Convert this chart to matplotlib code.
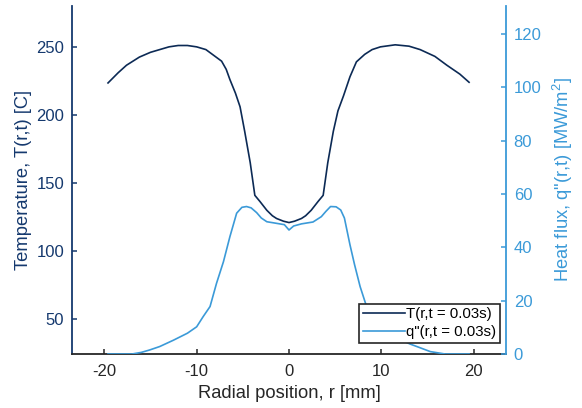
import matplotlib
matplotlib.use("Agg")
import matplotlib.pyplot as plt

plt.rcParams['font.family'] = ['Liberation Sans', 'DejaVu Sans']
plt.rcParams['mathtext.fontset'] = 'custom'
plt.rcParams['mathtext.rm'] = 'Liberation Sans'
plt.rcParams['mathtext.default'] = 'regular'
plt.rcParams['axes.unicode_minus'] = False

# temperature profile, T(r, t = 0.03 s)
r_T = [-19.6, -18.5, -17.6, -16.2, -15.0, -14.0, -13.0, -12.0, -11.0, -10.0, -9.0,
       -8.2, -7.3, -6.8, -6.4, -5.8, -5.3, -4.8, -4.2, -3.7, -3.15, -2.4, -1.8,
       -1.35, -0.6, 0.0, 0.6, 1.35, 1.8, 2.4, 3.15, 3.7, 4.2, 4.8, 5.3, 5.9, 6.6,
       7.3, 8.2, 9.0, 9.9, 11.5, 13.0, 14.2, 15.8, 17.1, 18.5, 19.5]
T = [223.5, 231.0, 236.5, 242.5, 246.0, 248.0, 250.0, 251.0, 251.0, 250.0, 248.0,
     244.0, 239.5, 233.5, 226.0, 216.0, 206.0, 188.0, 165.0, 141.0, 136.5, 130.0, 126.0,
     124.0, 122.0, 121.0, 122.0, 124.0, 126.0, 130.0, 136.5, 141.0, 165.0, 188.0, 203.0, 214.0, 228.0,
     239.0, 244.5, 248.0, 250.0, 251.5, 250.5, 248.0, 243.0, 236.5, 230.0, 224.0]

# heat flux profile, q''(r, t = 0.03 s)
r_q = [-19.6, -17.0, -16.0, -15.1, -14.0, -12.5, -11.0, -10.0, -9.3, -8.55, -7.85,
       -7.1, -6.4, -5.67, -5.1, -4.6, -4.1, -3.5, -3.0, -2.4, -1.35, -0.5, 0.0,
       0.5, 1.35, 2.6, 3.5, 4.0, 4.5, 5.1, 5.6, 6.0, 6.6, 7.1, 7.7, 8.4, 9.2,
       10.0, 11.0, 12.0, 13.1, 14.0, 15.3, 16.9, 19.5]
q = [0.0, 0.0, 0.6, 1.5, 2.8, 5.2, 7.8, 10.2, 14.0, 17.8, 26.5,
     34.6, 44.0, 52.8, 55.0, 55.3, 54.8, 53.0, 51.0, 49.6, 49.0, 48.5, 46.5,
     48.0, 48.8, 49.5, 51.5, 53.5, 55.3, 55.2, 54.0, 51.0, 41.0, 33.5, 25.3, 17.8, 13.0,
     10.0, 7.6, 5.5, 3.75, 2.6, 0.9, 0.0, 0.0]

x_ticks = [-20, -10, 0, 10, 20]
T_ticks = [50, 100, 150, 200, 250]
q_ticks = [0, 20, 40, 60, 80, 100, 120]

c_T = '#0c2a55'
c_T_axis = '#15396e'
c_q = '#3b9ad8'
c_ax = '#262626'

W, H = 582, 408
fig = plt.figure(figsize=(W / 100, H / 100), dpi=100)
left, right, top, bottom = 72, 506, 6, 354
aw, ah = right - left, bottom - top
ax1 = fig.add_axes([left / W, 1 - bottom / H, aw / W, ah / H])
ax2 = ax1.twinx()

l1, = ax1.plot(r_T, T, color=c_T, lw=1.2, label='T(r,t = 0.03s)')
l2, = ax2.plot(r_q, q, color=c_q, lw=1.2, label='q"(r,t = 0.03s)')

ax1.set_xlim(-23.5, 23.5)
ax1.set_ylim(24.5, 280)
ax2.set_ylim(0, 130.5)
ax1.set_xticks(x_ticks)
ax1.set_yticks(T_ticks)
ax2.set_yticks(q_ticks)

for s in ['top', 'right']:
    ax1.spines[s].set_visible(False)
for s in ['top', 'left', 'bottom']:
    ax2.spines[s].set_visible(False)
ax1.spines['left'].set_color(c_T_axis)
ax1.spines['bottom'].set_color(c_ax)
ax2.spines['right'].set_color(c_q)
for sp in [ax1.spines['left'], ax1.spines['bottom'], ax2.spines['right']]:
    sp.set_linewidth(1.3)

ax1.tick_params(axis='x', direction='in', length=3.5, width=1.1, colors=c_ax,
                labelsize=12, pad=7)
ax1.tick_params(axis='y', direction='in', length=3.5, width=1.1, colors=c_T_axis,
                labelsize=12, pad=5.5)
ax2.tick_params(axis='y', direction='in', length=3.5, width=1.1, colors=c_q,
                labelsize=12, pad=5.5)

ax1.set_xlabel('Radial position, r [mm]', fontsize=13.2, color=c_ax)
ax1.set_ylabel('Temperature, T(r,t) [C]', fontsize=13.2, color=c_T_axis)
ax2.set_ylabel('Heat flux, q"(r,t) [MW/m$^2$]', fontsize=13.2, color=c_q)
ax1.xaxis.set_label_coords(0.5, -(384.5 - bottom) / ah)
ax1.yaxis.set_label_coords((32 - left) / aw, 0.5)
ax2.yaxis.set_label_coords((551 - left) / aw, 0.5)

leg = ax2.legend(handles=[l1, l2], loc='lower right', bbox_to_anchor=(0.986, 0.032),
                 borderaxespad=0, fontsize=10.8, handlelength=2.8, handletextpad=0.1,
                 borderpad=0.25, labelspacing=0.25, fancybox=False, framealpha=1)
leg.get_frame().set_edgecolor('#262626')
leg.get_frame().set_linewidth(1.2)

fig.savefig('out.png', dpi=100)
